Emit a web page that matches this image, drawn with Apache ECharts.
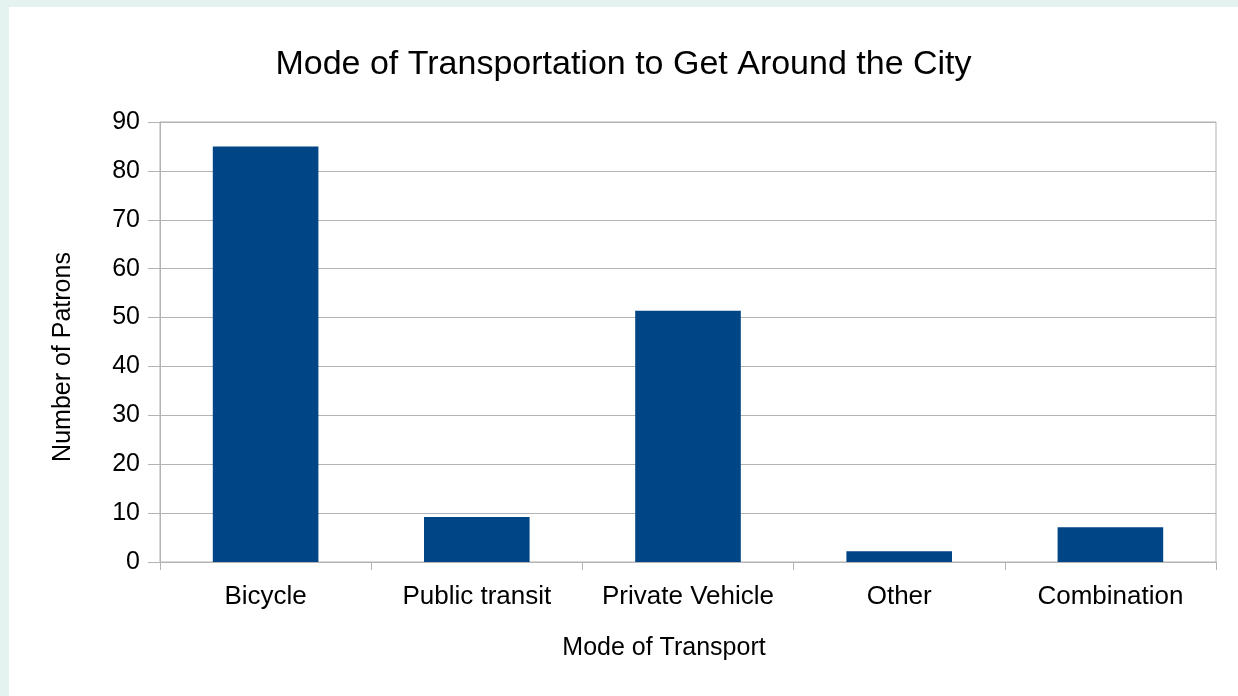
<!DOCTYPE html>
<html>
<head>
<meta charset="utf-8">
<script src="https://cdn.jsdelivr.net/npm/echarts@6/dist/echarts.min.js"></script>
<style>
  html, body { margin: 0; padding: 0; width: 1238px; height: 696px; background: #e4f3f0; overflow: hidden; }
  #chart { position: absolute; left: 9px; top: 7px; width: 1229px; height: 689px; background: #ffffff; }
</style>
</head>
<body>
<div id="chart"></div>
<script>
const titleText = "Mode of Transportation to Get Around the City";
const xAxisName = "Mode of Transport";
const yAxisName = "Number of Patrons";
const categories = ["Bicycle", "Public transit", "Private Vehicle", "Other", "Combination"];
const patrons = [85, 9.2, 51.4, 2.2, 7.1];
const yMin = 0, yMax = 90, yStep = 10;

const FONT = "Liberation Sans, Arial, sans-serif";
const GRIDC = "#b3b3b3";

const chart = echarts.init(document.getElementById('chart'), null, { renderer: 'canvas' });
chart.setOption({
  animation: false,
  backgroundColor: '#ffffff',
  title: {
    text: titleText,
    left: 'center',
    top: 36,
    textStyle: { fontFamily: FONT, fontSize: 34, fontWeight: 'normal', color: '#000000' }
  },
  grid: {
    left: 151, right: 22, top: 115, bottom: 134,
    show: true, borderColor: GRIDC, borderWidth: 1, backgroundColor: 'transparent'
  },
  xAxis: {
    type: 'category',
    data: categories,
    name: xAxisName,
    nameLocation: 'middle',
    nameGap: 74,
    nameTextStyle: { fontFamily: FONT, fontSize: 25, color: '#000000', padding: [0, 48, 0, 0] },
    axisLine: { show: true, lineStyle: { color: GRIDC, width: 1 } },
    axisTick: { show: true, interval: 0, length: 8, lineStyle: { color: GRIDC } },
    axisLabel: { interval: 0, fontFamily: FONT, fontSize: 26, color: '#000000', margin: 22 },
    splitLine: { show: false }
  },
  yAxis: {
    type: 'value',
    min: yMin, max: yMax, interval: yStep,
    name: yAxisName,
    nameLocation: 'middle',
    nameGap: 84,
    nameTextStyle: { fontFamily: FONT, fontSize: 25, color: '#000000', padding: [0, 30, 0, 0] },
    axisLine: { show: true, lineStyle: { color: GRIDC, width: 1 } },
    axisTick: { show: true, length: 12, lineStyle: { color: GRIDC } },
    axisLabel: { fontFamily: FONT, fontSize: 25, color: '#000000', margin: 20 },
    splitLine: { show: true, lineStyle: { color: GRIDC, width: 1 } }
  },
  series: [{
    type: 'bar',
    data: patrons,
    barCategoryGap: '50%',
    itemStyle: { color: '#004586' }
  }]
});
</script>
</body>
</html>
